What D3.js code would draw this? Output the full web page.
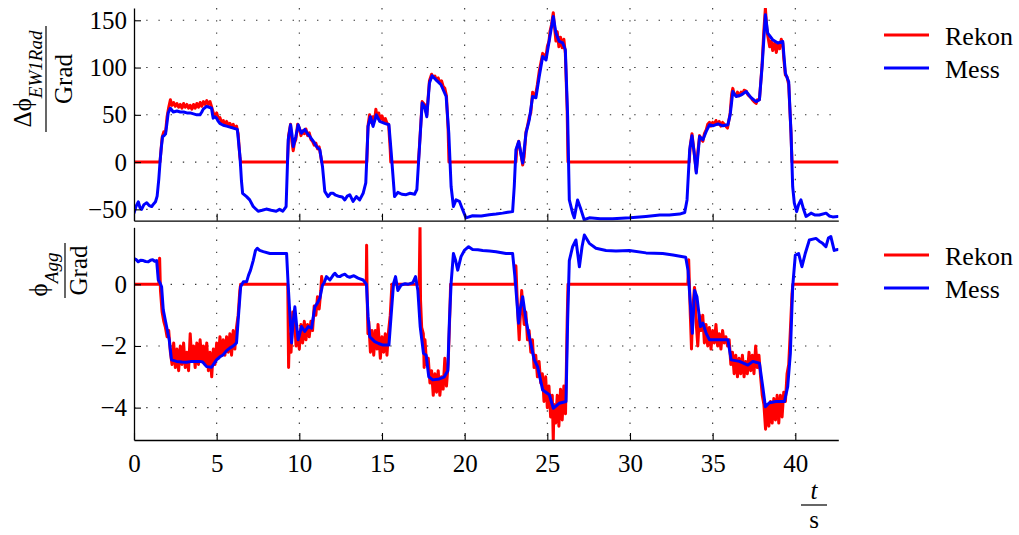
<!DOCTYPE html>
<html><head><meta charset="utf-8">
<script src="https://cdn.jsdelivr.net/npm/d3@7"></script>
<style>
body{margin:0;background:#fff}
svg{display:block;background:#fff}
text{font-family:"Liberation Serif","Times New Roman",Times,serif;fill:#000}
</style>
</head><body>
<svg id="chart" width="1019" height="535"></svg>
<script>
// Tick values
const xTicks = [0, 5, 10, 15, 20, 25, 30, 35, 40];
const topTicks = [-50, 0, 50, 100, 150];
const botTicks = [-4, -2, 0];
const seriesNames = ["Rekon", "Mess"];

// Δϕ_EW1Rad in degrees over time t in seconds
const messTop = [[0,-54],[0.12,-47],[0.26,-42],[0.36,-48],[0.46,-50],[0.6,-45],[0.77,-43],[0.92,-46],[1.07,-47],[1.2,-44],[1.3,-42],[1.4,-36],[1.5,-18],[1.57,-1],[1.65,15],[1.73,27],[1.82,28],[1.91,30],[2.0,42],[2.07,52],[2.2,57],[2.38,53],[2.6,54],[2.8,53],[3.0,53],[3.2,52],[3.4,52],[3.6,51],[3.8,50],[3.99,50],[4.1,53],[4.19,56],[4.39,59],[4.55,58],[4.69,57],[4.75,50],[4.79,46.5],[4.9,48],[4.99,46.5],[5.1,43],[5.19,41],[5.4,39],[5.6,38],[5.8,37],[6.0,36],[6.25,34.6],[6.41,6],[6.5,-20],[6.57,-33],[6.81,-36.5],[7.0,-40],[7.21,-47],[7.51,-52],[7.75,-51],[8.0,-49.7],[8.3,-51],[8.6,-52],[8.8,-50],[9.0,-52],[9.2,-47],[9.33,23.6],[9.47,39.5],[9.55,30],[9.63,16.5],[9.79,27],[9.93,39.5],[10.02,35],[10.13,30.7],[10.33,34.6],[10.5,30],[10.64,27],[10.85,22],[11.04,16.5],[11.24,13],[11.4,-4.6],[11.54,-31],[11.74,-36.5],[11.9,-33],[12.04,-33],[12.2,-35],[12.45,-36.5],[12.6,-37],[12.75,-40],[12.9,-36],[13.05,-34.5],[13.25,-41.5],[13.45,-36.5],[13.65,-40],[13.86,-33],[14.02,-22],[14.16,37.7],[14.3,48],[14.46,37.7],[14.66,50],[14.86,43],[15.16,41],[15.42,39.5],[15.56,9.5],[15.76,-36.5],[15.96,-32],[16.2,-34],[16.46,-34.5],[16.7,-33],[16.97,-34],[17.11,-29],[17.27,16.5],[17.43,62.4],[17.57,59],[17.71,48],[17.87,83.6],[18.03,91.3],[18.27,87],[18.57,81.8],[18.88,69.4],[19.04,30.7],[19.18,-25.8],[19.32,-47],[19.48,-40],[19.68,-41.5],[19.88,-50.5],[20.08,-59],[20.48,-56.8],[21.0,-57],[21.49,-55.8],[21.9,-55],[22.3,-54],[22.6,-53],[22.9,-52.4],[23.0,-25.8],[23.1,13],[23.27,21.8],[23.41,8],[23.51,-1],[23.71,30.7],[23.91,44.8],[24.11,69.4],[24.31,68],[24.51,90.6],[24.72,111.7],[24.92,108],[25.16,133],[25.36,154],[25.52,136.5],[25.72,127.6],[25.93,126],[26.09,118.8],[26.23,48],[26.33,-40],[26.53,-54],[26.63,-59],[26.83,-40],[27.03,-50],[27.23,-61],[27.54,-59],[28.2,-60],[28.95,-60],[30.0,-59],[30.96,-57.5],[31.8,-56],[32.38,-56],[33.0,-55],[33.31,-53.3],[33.45,-40],[33.61,13],[33.75,27.8],[33.88,10],[34.01,-11.6],[34.21,27],[34.41,23.6],[34.61,32.4],[34.81,39.5],[35.01,38.4],[35.32,40.4],[35.62,38.4],[35.92,39.5],[36.06,50],[36.22,74.7],[36.42,69.4],[36.72,71],[37.03,74.7],[37.33,68],[37.63,64],[37.83,66],[37.99,101],[38.19,155.9],[38.33,136.5],[38.63,129.4],[38.94,126],[39.24,127.6],[39.4,94],[39.6,85],[39.74,30.7],[39.84,-25.8],[39.94,-43.4],[40.08,-52.4],[40.2,-45],[40.34,-40],[40.5,-50],[40.65,-57.5],[40.95,-54],[41.2,-56],[41.45,-56],[41.86,-54],[42.05,-57],[42.26,-58],[42.56,-57.5]];

const rekonTop = [[0,0],[1.57,0],[1.7,26],[1.8,32],[1.9,30],[2.0,48],[2.1,58],[2.2,66],[2.3,60],[2.4,63],[2.5,59],[2.6,62],[2.7,58],[2.8,61],[2.9,57],[3.0,62],[3.1,58],[3.2,61],[3.3,57],[3.4,60],[3.5,56],[3.6,61],[3.7,57],[3.8,62],[3.9,58],[4.0,63],[4.1,59],[4.2,64],[4.3,61],[4.4,65],[4.5,61],[4.6,64],[4.7,58],[4.8,52],[4.9,49],[5.0,52],[5.1,46],[5.2,47],[5.3,42],[5.4,44],[5.5,40],[5.6,43],[5.7,39],[5.8,41],[5.9,37],[6.0,40],[6.1,36],[6.2,38],[6.3,30],[6.4,6],[6.45,0],
  [9.28,0],[9.35,28],[9.47,40],[9.55,22],[9.63,12],[9.7,20],[9.79,24],[9.9,40],[10.0,36],[10.1,28],[10.2,33],[10.3,30],[10.4,35],[10.5,28],[10.6,31],[10.7,24],[10.8,22],[10.9,18],[11.0,20],[11.1,14],[11.2,16],[11.3,6],[11.35,0],
  [14.08,0],[14.15,38],[14.25,50],[14.35,42],[14.45,48],[14.55,44],[14.63,56],[14.7,47],[14.8,52],[14.9,45],[15.0,49],[15.1,43],[15.2,46],[15.3,41],[15.4,40],[15.5,12],[15.53,0],
  [17.2,0],[17.27,18],[17.43,64],[17.57,61],[17.71,50],[17.87,86],[18.0,93],[18.1,90],[18.2,91],[18.3,87],[18.4,89],[18.5,84],[18.6,86],[18.7,80],[18.8,78],[18.9,70],[19.0,34],[19.05,0],
  [23.1,0],[23.15,14],[23.27,22],[23.41,8],[23.51,-3],[23.6,6],[23.71,32],[23.8,38],[23.91,48],[24.0,52],[24.11,74],[24.2,70],[24.31,73],[24.4,82],[24.51,96],[24.6,104],[24.72,115],[24.82,113],[24.92,112],[25.0,122],[25.1,128],[25.16,138],[25.25,145],[25.36,158],[25.45,140],[25.52,128],[25.6,138],[25.7,122],[25.8,132],[25.9,121],[26.0,130],[26.09,115],[26.2,55],[26.25,0],
  [33.58,0],[33.65,18],[33.75,30],[33.85,15],[34.01,-10],[34.1,10],[34.21,28],[34.3,24],[34.41,22],[34.5,30],[34.61,34],[34.7,40],[34.81,42],[34.9,38],[35.0,42],[35.1,40],[35.2,44],[35.3,40],[35.4,43],[35.5,38],[35.6,42],[35.7,40],[35.8,38],[35.9,36],[36.06,52],[36.15,72],[36.22,78],[36.3,72],[36.42,70],[36.5,74],[36.6,70],[36.72,74],[36.8,72],[36.9,76],[37.03,75],[37.1,72],[37.2,70],[37.33,68],[37.4,66],[37.5,64],[37.63,62],[37.7,66],[37.83,66],[37.99,103],[38.1,140],[38.19,163],[38.28,140],[38.33,134],[38.45,122],[38.55,128],[38.63,118],[38.75,126],[38.85,116],[38.94,124],[39.05,120],[39.15,130],[39.24,126],[39.3,110],[39.4,92],[39.5,90],[39.6,82],[39.74,30],[39.8,0],[42.6,0]];

// ϕ_Agg in degrees over time t in seconds
const messBot = [[0,0.84],[0.13,0.8],[0.26,0.73],[0.4,0.78],[0.56,0.77],[0.7,0.74],[0.87,0.73],[1.0,0.78],[1.13,0.8],[1.25,0.75],[1.37,0.77],[1.47,0.14],[1.57,0.05],[1.67,-0.08],[1.77,-0.83],[1.87,-1.1],[1.97,-1.37],[2.13,-1.8],[2.27,-2.45],[2.57,-2.5],[2.9,-2.52],[3.17,-2.53],[3.5,-2.5],[3.97,-2.5],[4.15,-2.52],[4.39,-2.67],[4.69,-2.69],[4.99,-2.45],[5.2,-2.35],[5.39,-2.29],[5.6,-2.15],[5.79,-2.07],[6.0,-2.0],[6.2,-1.9],[6.3,-1.16],[6.45,-0.08],[6.61,0.08],[6.81,0.08],[6.93,0.3],[7.05,0.46],[7.21,0.77],[7.35,1.1],[7.46,1.17],[7.6,1.1],[7.82,1.06],[8.22,1.0],[8.7,1.0],[9.23,1.0],[9.33,-0.08],[9.53,-1.9],[9.63,-1.2],[9.73,-0.73],[9.83,-1.3],[9.93,-1.8],[10.13,-1.37],[10.33,-1.53],[10.54,-1.37],[10.74,-1.42],[10.94,-0.73],[11.1,-0.6],[11.24,-0.45],[11.4,-0.03],[11.5,0.05],[11.64,0.25],[11.85,0.14],[12.05,0.3],[12.15,0.36],[12.3,0.26],[12.45,0.25],[12.6,0.3],[12.75,0.33],[12.9,0.26],[13.05,0.23],[13.3,0.28],[13.55,0.2],[13.86,0.14],[14.06,0.0],[14.16,-1.05],[14.26,-1.7],[14.56,-1.86],[14.8,-1.92],[15.06,-1.97],[15.42,-1.97],[15.56,-0.95],[15.7,0.03],[15.82,0.25],[15.96,-0.2],[16.16,-0.02],[16.4,0.02],[16.56,0.0],[16.86,0.05],[17.03,0.25],[17.17,-0.2],[17.31,-1.37],[17.51,-2.24],[17.67,-2.3],[17.83,-3.0],[18.07,-3.1],[18.47,-3.07],[18.77,-3.0],[18.98,-2.8],[19.08,-1.16],[19.18,0.03],[19.32,1.0],[19.44,0.8],[19.58,0.46],[19.78,0.9],[19.98,1.1],[20.24,1.22],[20.48,1.13],[20.8,1.12],[21.09,1.1],[21.5,1.08],[21.9,1.06],[22.5,1.0],[22.9,1.0],[23.06,0.14],[23.26,-1.26],[23.36,-0.8],[23.51,-0.4],[23.71,-1.16],[23.91,-1.7],[24.21,-2.45],[24.41,-2.67],[24.72,-3.43],[25.12,-3.58],[25.36,-4.02],[25.72,-3.86],[26.13,-3.8],[26.23,-1.16],[26.33,0.77],[26.53,1.22],[26.73,1.44],[26.94,0.57],[27.1,1.22],[27.24,1.6],[27.54,1.33],[27.94,1.17],[28.55,1.1],[29.15,1.08],[29.96,1.1],[30.97,1.02],[31.98,1.0],[32.6,0.95],[33.37,0.88],[33.51,0.46],[33.65,-0.62],[33.77,-1.59],[33.91,-0.2],[34.05,-0.4],[34.26,-1.37],[34.41,-1.26],[34.61,-1.59],[34.81,-1.8],[35.42,-1.8],[35.92,-1.8],[36.12,-2.45],[36.62,-2.5],[37.13,-2.62],[37.43,-2.5],[37.83,-2.56],[38.03,-3.32],[38.19,-3.97],[38.43,-3.84],[38.83,-3.8],[39.34,-3.8],[39.54,-3.32],[39.7,-2.24],[39.84,-0.08],[40.0,0.95],[40.2,1.0],[40.4,0.57],[40.6,1.0],[40.85,1.44],[41.25,1.49],[41.45,1.4],[41.65,1.33],[41.85,1.22],[42.0,1.5],[42.15,1.55],[42.35,1.1],[42.56,1.13]];

const rekonBot = [[0,0],[1.5,0],[1.55,0.85],[1.6,-0.2],[1.7,-0.9],[1.8,-1.2],[1.9,-1.4],[2.0,-1.7],[2.1,-1.5],[2.2,-2.2],[2.3,-2.6],[2.4,-1.9],[2.5,-2.7],[2.6,-2.1],[2.7,-2.8],[2.8,-2.0],[2.9,-2.6],[3.0,-1.9],[3.1,-2.7],[3.2,-2.2],[3.3,-2.8],[3.4,-1.6],[3.5,-2.5],[3.6,-2.0],[3.7,-2.7],[3.8,-1.9],[3.9,-2.6],[4.0,-1.8],[4.1,-2.5],[4.2,-2.0],[4.3,-2.6],[4.4,-1.9],[4.5,-2.8],[4.6,-2.2],[4.7,-3.0],[4.8,-2.1],[4.9,-2.6],[5.0,-1.9],[5.1,-2.4],[5.2,-1.7],[5.3,-2.3],[5.4,-1.8],[5.5,-2.3],[5.6,-1.7],[5.7,-2.2],[5.8,-1.6],[5.9,-2.3],[6.0,-1.5],[6.1,-2.1],[6.2,-1.4],[6.3,-1.0],[6.4,-0.2],[6.45,0],
  [9.3,0],[9.35,-2.7],[9.4,-1.6],[9.5,-2.2],[9.6,-0.9],[9.7,-1.0],[9.8,-2.0],[9.9,-1.6],[10.0,-2.1],[10.1,-1.3],[10.2,-1.9],[10.3,-1.2],[10.4,-1.8],[10.5,-1.3],[10.6,-1.7],[10.7,-1.2],[10.8,-1.5],[10.9,-0.7],[11.0,-1.0],[11.1,-0.4],[11.2,-0.8],[11.3,-0.2],[11.35,0.25],[11.4,0],
  [14.05,0],[14.07,1.27],[14.1,-0.3],[14.15,-1.6],[14.2,-1.2],[14.3,-2.2],[14.4,-1.5],[14.5,-2.3],[14.6,-1.5],[14.7,-2.1],[14.76,-1.3],[14.8,-1.6],[14.9,-2.4],[15.0,-1.7],[15.1,-2.2],[15.2,-1.6],[15.3,-2.3],[15.4,-1.5],[15.5,-1.0],[15.6,0],
  [17.25,0],[17.3,1.9],[17.33,-0.5],[17.4,-1.4],[17.5,-1.6],[17.55,-2.7],[17.6,-1.8],[17.7,-2.6],[17.8,-2.4],[17.9,-3.2],[18.0,-2.8],[18.1,-3.6],[18.2,-2.9],[18.3,-3.5],[18.4,-2.8],[18.5,-3.6],[18.6,-3.0],[18.7,-3.4],[18.8,-2.4],[18.9,-3.3],[19.0,-2.6],[19.1,-1.0],[19.15,0],
  [23.05,0],[23.1,0.6],[23.2,-0.8],[23.3,-1.8],[23.35,-1.2],[23.45,-0.2],[23.5,-0.6],[23.6,-1.3],[23.7,-0.9],[23.8,-1.8],[23.9,-1.5],[24.0,-2.2],[24.1,-1.8],[24.2,-2.7],[24.3,-2.3],[24.4,-3.0],[24.5,-2.5],[24.6,-3.2],[24.7,-2.9],[24.8,-3.8],[24.9,-3.0],[25.0,-4.0],[25.1,-3.3],[25.2,-4.3],[25.3,-3.6],[25.36,-5.1],[25.4,-3.9],[25.5,-4.5],[25.6,-3.6],[25.7,-4.6],[25.8,-3.4],[25.9,-4.4],[26.0,-3.3],[26.1,-4.2],[26.15,-2.8],[26.2,-1.2],[26.25,0],
  [33.5,0],[33.55,0.8],[33.65,-1.0],[33.72,-2.1],[33.8,-0.8],[33.9,-0.1],[33.95,-0.3],[34.0,-1.2],[34.1,-2.0],[34.2,-1.0],[34.3,-1.5],[34.4,-1.0],[34.5,-1.9],[34.6,-1.3],[34.7,-2.0],[34.8,-1.4],[34.9,-2.1],[35.0,-1.5],[35.1,-1.9],[35.2,-1.3],[35.3,-2.0],[35.4,-1.6],[35.5,-2.1],[35.6,-1.5],[35.7,-1.9],[35.8,-1.7],[35.9,-2.0],[36.0,-1.8],[36.1,-2.6],[36.2,-2.2],[36.3,-2.9],[36.4,-2.3],[36.5,-3.0],[36.6,-2.4],[36.7,-2.9],[36.8,-2.3],[36.9,-3.0],[37.0,-2.5],[37.1,-2.9],[37.2,-2.2],[37.3,-2.8],[37.4,-2.3],[37.5,-2.9],[37.6,-2.0],[37.7,-2.7],[37.8,-2.3],[37.9,-3.0],[38.0,-3.6],[38.1,-3.9],[38.2,-4.7],[38.3,-3.9],[38.4,-4.6],[38.5,-3.8],[38.6,-4.5],[38.7,-3.7],[38.8,-4.4],[38.9,-3.6],[39.0,-4.5],[39.1,-3.6],[39.2,-4.3],[39.3,-3.5],[39.4,-3.8],[39.5,-2.9],[39.6,-2.6],[39.7,-1.5],[39.8,-0.3],[39.85,0],[42.6,0]];

const colors = {Rekon: "#ff0000", Mess: "#0000ff"};
const FONT = '"Liberation Serif","Times New Roman",Times,serif';

const svg = d3.select("#chart");
const x = d3.scaleLinear().domain([0, 42.6]).range([134, 838.3]);

const panels = [
  {key: "top", y: d3.scaleLinear().domain([-62, 163]).range([220.7, 8]), ticks: topTicks,
   rekon: rekonTop, mess: messTop, legendY: 35, showX: false},
  {key: "bot", y: d3.scaleLinear().domain([-5.05, 1.85]).range([440, 227.3]), ticks: botTicks,
   rekon: rekonBot, mess: messBot, legendY: 255, showX: true}
];

const defs = svg.append("defs");
const fmt = d3.format("d");

panels.forEach(p => {
  const [yb, yt] = p.y.range();
  const [xl, xr] = x.range();
  const g = svg.append("g").attr("class", "panel-" + p.key);

  defs.append("clipPath").attr("id", "clip-" + p.key)
    .append("rect").attr("x", xl).attr("y", yt).attr("width", xr - xl).attr("height", yb - yt);

  // dotted grid
  const grid = g.append("g").attr("stroke", "#333").attr("stroke-width", 1.1)
    .attr("stroke-dasharray", "1.4,10.8");
  grid.selectAll("line.v").data(xTicks.filter(d => d > 0)).join("line").attr("class", "v")
    .attr("x1", d => x(d)).attr("x2", d => x(d)).attr("y1", yt).attr("y2", yb);
  grid.selectAll("line.h").data(p.ticks).join("line").attr("class", "h")
    .attr("x1", xl).attr("x2", xr).attr("y1", d => p.y(d)).attr("y2", d => p.y(d));

  // series
  const line = d3.line().x(d => x(d[0])).y(d => p.y(d[1]));
  const plot = g.append("g").attr("clip-path", `url(#clip-${p.key})`)
    .attr("fill", "none").attr("stroke-width", 3).attr("stroke-linejoin", "round").attr("stroke-linecap", "round");
  plot.append("path").datum(p.rekon).attr("stroke", colors.Rekon).attr("d", line);
  plot.append("path").datum(p.mess).attr("stroke", colors.Mess).attr("d", line);

  // axes
  const ay = g.append("g").attr("transform", `translate(${xl},0)`)
    .call(d3.axisLeft(p.y).tickValues(p.ticks).tickFormat(fmt).tickSize(-7).tickSizeOuter(0).tickPadding(7));
  const ax = g.append("g").attr("transform", `translate(0,${yb})`)
    .call(d3.axisBottom(x).tickValues(xTicks).tickSize(-7).tickSizeOuter(0).tickPadding(14)
      .tickFormat(p.showX ? fmt : () => ""));
  [ay, ax].forEach(a => {
    a.attr("font-family", FONT).attr("font-size", 25);
    a.selectAll("path.domain").attr("stroke", "#000").attr("stroke-width", 1.3);
    a.selectAll(".tick line").attr("stroke", "#000").attr("stroke-width", 1.1);
    a.selectAll(".tick text").attr("fill", "#000").style("font-family", FONT);
  });

  // legend
  const lg = g.append("g");
  seriesNames.forEach((name, i) => {
    const ly = p.legendY + i * 33;
    lg.append("line").attr("x1", 884).attr("x2", 929).attr("y1", ly).attr("y2", ly)
      .attr("stroke", colors[name]).attr("stroke-width", 3);
    lg.append("text").attr("x", 945).attr("y", ly + 9.5).attr("font-size", 26)
      .style("font-family", FONT).text(name);
  });
});

// y-axis labels as fractions
function fracLabel(cx, cy, half, numParts, numY, numShift, denY) {
  const g = svg.append("g").attr("transform", `translate(${cx},${cy}) rotate(-90)`);
  g.append("line").attr("x1", -half).attr("x2", half).attr("y1", 0).attr("y2", 0)
    .attr("stroke", "#000").attr("stroke-width", 1.2);
  const t = g.append("text").attr("x", numShift).attr("y", numY).attr("text-anchor", "middle")
    .style("font-family", FONT);
  t.append("tspan").attr("font-size", 25).text(numParts[0]);
  t.append("tspan").attr("font-size", 19).attr("font-style", "italic").attr("dy", 11).text(numParts[1]);
  g.append("text").attr("x", 0).attr("y", denY).attr("text-anchor", "middle").attr("font-size", 25)
    .style("font-family", FONT).text("Grad");
}
fracLabel(46, 79, 53, ["Δϕ", "EW1Rad"], -15, 0, 26);
fracLabel(65, 270.5, 27.5, ["ϕ", "Agg"], -18, -4, 22);

// x-axis label t / s
const xlab = svg.append("g").style("font-family", FONT);
xlab.append("text").attr("x", 814).attr("y", 499).attr("text-anchor", "middle")
  .attr("font-size", 25).attr("font-style", "italic").text("t");
xlab.append("line").attr("x1", 801).attr("x2", 827).attr("y1", 505).attr("y2", 505)
  .attr("stroke", "#000").attr("stroke-width", 1.2);
xlab.append("text").attr("x", 814).attr("y", 528).attr("text-anchor", "middle")
  .attr("font-size", 25).text("s");
</script>
</body></html>
